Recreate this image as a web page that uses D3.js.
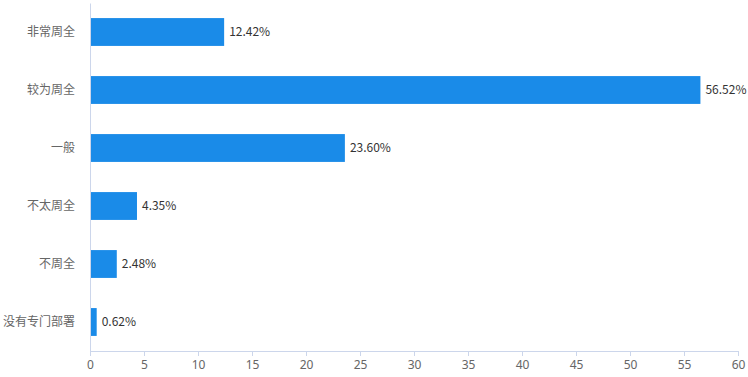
<!DOCTYPE html>
<html>
<head>
<meta charset="utf-8">
<script src="https://cdnjs.cloudflare.com/ajax/libs/d3/7.8.5/d3.min.js"></script>
<style>
  body { margin: 0; background: #fff; }
  text { font-family: "Noto Sans CJK SC", "Noto Sans", sans-serif; }
</style>
</head>
<body>
<script>
  // data
  const categories = ["非常周全", "较为周全", "一般", "不太周全", "不周全", "没有专门部署"];
  const values = [12.42, 56.52, 23.60, 4.35, 2.48, 0.62];
  const xTicks = [0, 5, 10, 15, 20, 25, 30, 35, 40, 45, 50, 55, 60];

  const w = 748, h = 377;
  const margin = { top: 3, right: 10, bottom: 26, left: 90 };

  const svg = d3.select("body").append("svg")
    .attr("width", w)
    .attr("height", h);

  const xScale = d3.scaleLinear()
    .domain([0, 60])
    .range([margin.left, w - margin.right]);

  const yScale = d3.scaleBand()
    .domain(categories)
    .range([margin.top, h - margin.bottom])
    .paddingInner(0.52)
    .paddingOuter(0.26);

  const rows = categories.map((c, i) => ({ cat: c, val: values[i] }));

  // bars
  svg.selectAll("rect.bar")
    .data(rows)
    .enter()
    .append("rect")
    .attr("class", "bar")
    .attr("x", xScale(0))
    .attr("y", d => yScale(d.cat))
    .attr("width", d => xScale(d.val) - xScale(0))
    .attr("height", yScale.bandwidth())
    .attr("fill", "#1a8be8");

  // value labels
  svg.selectAll("text.val")
    .data(rows)
    .enter()
    .append("text")
    .attr("class", "val")
    .attr("x", d => xScale(d.val) + 5)
    .attr("y", d => yScale(d.cat) + yScale.bandwidth() / 2)
    .attr("dy", "0.35em")
    .attr("font-size", 12)
    .attr("fill", "#333")
    .text(d => d.val.toFixed(2) + "%");

  // x axis
  const xAxis = d3.axisBottom(xScale).tickValues(xTicks).tickSize(5).tickPadding(4);
  const gx = svg.append("g")
    .attr("transform", "translate(0," + (h - margin.bottom) + ")")
    .call(xAxis);
  gx.select(".domain").attr("stroke", "#ccd6eb");
  gx.selectAll(".tick line").attr("stroke", "#ccd6eb");
  gx.selectAll(".tick text").attr("fill", "#666").attr("font-size", 12)
    .style("font-family", "'Noto Sans', sans-serif");

  // y axis
  const yAxis = d3.axisLeft(yScale).tickSize(0).tickPadding(15);
  const gy = svg.append("g")
    .attr("transform", "translate(" + margin.left + ",0)")
    .call(yAxis);
  gy.select(".domain").attr("stroke", "#ccd6eb");
  gy.selectAll(".tick text").attr("fill", "#666").attr("font-size", 12)
    .style("font-family", "'Noto Sans CJK SC', sans-serif");
</script>
</body>
</html>
